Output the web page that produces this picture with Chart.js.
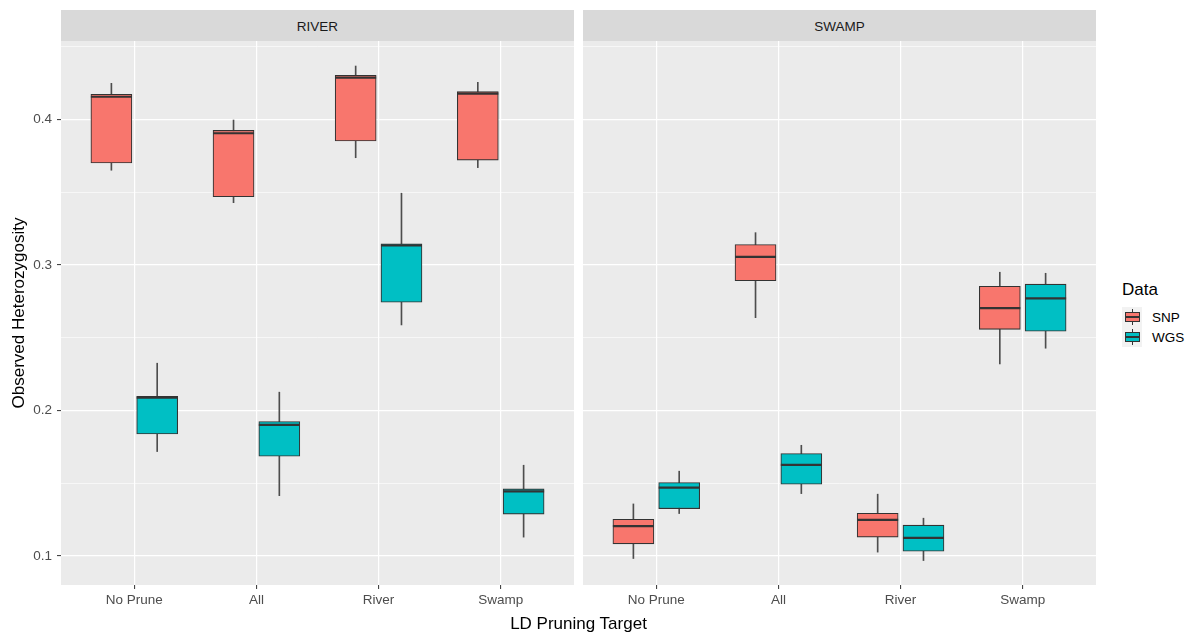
<!DOCTYPE html>
<html>
<head>
<meta charset="utf-8">
<script src="https://cdn.jsdelivr.net/npm/chart.js@4.4.1/dist/chart.umd.min.js"></script>
<style>
html,body{margin:0;padding:0;background:#fff;}
#wrap{position:relative;width:1192px;height:635px;overflow:hidden;font-family:"Liberation Sans",Arial,sans-serif;}
.cv{position:absolute;top:0;}
.strip{position:absolute;top:10px;height:31px;background:#D9D9D9;color:#1A1A1A;font-size:13.5px;line-height:33px;text-align:center;}
#xtitle{position:absolute;left:61px;width:1035px;top:614px;text-align:center;font-size:17px;color:#000;}
#legend{position:absolute;left:1122px;top:279px;color:#000;}
#legend .lt{font-size:17px;height:28px;line-height:22px;}
#legend .row{height:20px;display:flex;align-items:center;}
#legend .key{position:relative;width:20px;height:20px;background:#F2F2F2;margin-right:10px;}
#legend .wh{position:absolute;left:9.5px;width:1px;top:2px;height:16px;background:#333;}
#legend .bx{position:absolute;left:2.5px;width:13px;top:5px;height:8px;border:1px solid #333;}
#legend .md{position:absolute;left:2.5px;width:15px;top:9px;height:2px;background:#333;}
#legend .lab{font-size:13.5px;}
</style>
</head>
<body>
<div id="wrap">
  <canvas id="c1" class="cv" style="left:0px" width="574" height="635"></canvas>
  <canvas id="c2" class="cv" style="left:583px" width="513" height="635"></canvas>
  <div class="strip" style="left:61px;width:513px">RIVER</div>
  <div class="strip" style="left:583px;width:513px">SWAMP</div>
  <div id="xtitle">LD Pruning Target</div>
  <div id="legend">
    <div class="lt">Data</div>
    <div class="row"><span class="key"><i class="wh"></i><i class="bx" style="background:#F8766D"></i><i class="md"></i></span><span class="lab">SNP</span></div>
    <div class="row"><span class="key"><i class="wh"></i><i class="bx" style="background:#00BFC4"></i><i class="md"></i></span><span class="lab">WGS</span></div>
  </div>
</div>
<script>
// ---- data: each entry is [lower whisker, Q1, median, Q3, upper whisker] ----
const categories = ['No Prune', 'All', 'River', 'Swamp'];
const facets = ['RIVER', 'SWAMP'];
const seriesNames = ['SNP', 'WGS'];
const seriesColors = ['#F8766D', '#00BFC4'];

const riverSNP = [
  [0.3650, 0.3700, 0.4155, 0.4172, 0.4247],
  [0.3427, 0.3468, 0.3904, 0.3924, 0.3995],
  [0.3736, 0.3851, 0.4286, 0.4302, 0.4366],
  [0.3668, 0.3720, 0.4176, 0.4190, 0.4254]
];
const riverWGS = [
  [0.1717, 0.1838, 0.2088, 0.2097, 0.2324],
  [0.1414, 0.1685, 0.1900, 0.1923, 0.2125],
  [0.2587, 0.2743, 0.3134, 0.3145, 0.3492],
  [0.1129, 0.1287, 0.1444, 0.1460, 0.1623]
];
const swampSNP = [
  [0.0982, 0.1083, 0.1204, 0.1252, 0.1357],
  [0.2637, 0.2891, 0.3054, 0.3139, 0.3221],
  [0.1026, 0.1129, 0.1247, 0.1293, 0.1424],
  [0.2319, 0.2557, 0.2702, 0.2853, 0.2949]
];
const swampWGS = [
  [0.1291, 0.1325, 0.1469, 0.1504, 0.1582],
  [0.1428, 0.1493, 0.1625, 0.1703, 0.1760],
  [0.0968, 0.1032, 0.1124, 0.1211, 0.1259],
  [0.2427, 0.2544, 0.2770, 0.2867, 0.2942]
];

const yMajorTicks = [0.1, 0.2, 0.3, 0.4];
const yMinorTicks = [0.15, 0.25, 0.35, 0.45];

// ---- rendering ----
const FONT = '"Liberation Sans", Arial, sans-serif';
const DODGE = 0.1875;   // ggplot dodge offset (category units)
const BOX_PX = 41;      // box width in px
const isMajor = v => yMajorTicks.some(t => Math.abs(t - v) < 1e-9);

const panelBg = {
  id: 'panelBg',
  beforeDraw(chart) {
    const {ctx, chartArea: a} = chart;
    ctx.save();
    ctx.fillStyle = '#EBEBEB';
    ctx.fillRect(a.left, a.top, a.right - a.left, a.bottom - a.top);
    ctx.restore();
  }
};

function buildDatasets(groups) {
  const ds = [];
  groups.forEach((g, s) => {
    const off = s === 0 ? -DODGE : DODGE;
    ds.push({
      type: 'bar', label: seriesNames[s] + ' whisker', order: 3,
      data: g.map((d, i) => ({x: i + 1 + off, y: [d[0], d[4]]})),
      backgroundColor: '#4d4d4d', borderWidth: 0,
      barThickness: 1, grouped: false
    });
    ds.push({
      type: 'bar', label: seriesNames[s], order: 2,
      data: g.map((d, i) => ({x: i + 1 + off, y: [d[1], d[3]]})),
      backgroundColor: seriesColors[s], borderColor: '#333333', borderWidth: 1.1,
      borderSkipped: false, barThickness: BOX_PX, grouped: false
    });
    ds.push({
      type: 'scatter', label: seriesNames[s] + ' median', order: 1,
      data: g.map((d, i) => ({x: i + 1 + off, y: d[2]})),
      pointStyle: 'line', pointRadius: BOX_PX / 2, pointHoverRadius: BOX_PX / 2,
      borderColor: '#333333', borderWidth: 2.2
    });
  });
  return ds;
}

function makeChart(id, groups, showY) {
  return new Chart(document.getElementById(id), {
    type: 'bar',
    data: {datasets: buildDatasets(groups)},
    options: {
      responsive: false, animation: false, devicePixelRatio: 1,
      layout: {autoPadding: false, padding: {top: 41, left: 0, right: 0, bottom: 0}},
      plugins: {legend: {display: false}, tooltip: {enabled: false}},
      scales: {
        x: {
          type: 'linear', min: 0.4, max: 4.6, bounds: 'data', offset: false,
          afterBuildTicks: s => { s.ticks = categories.map((c, i) => ({value: i + 1})); },
          afterFit: s => { s.height = 50; s.paddingLeft = 0; s.paddingRight = 0; },
          ticks: {
            autoSkip: false, maxRotation: 0, padding: 3,
            color: '#4D4D4D', font: {family: FONT, size: 13.5},
            callback: v => categories[Math.round(v) - 1]
          },
          grid: {offset: false, color: '#FFFFFF', lineWidth: 1.2, tickColor: '#333333', tickLength: 4, tickWidth: 1},
          border: {display: false}
        },
        y: {
          type: 'linear', min: 0.08, max: 0.4538, bounds: 'data',
          afterBuildTicks: s => {
            s.ticks = yMajorTicks.concat(yMinorTicks).sort((a, b) => a - b).map(v => ({value: v}));
          },
          afterFit: s => { s.width = showY ? 61 : 0; s.paddingTop = 0; s.paddingBottom = 0; },
          ticks: {
            display: showY, autoSkip: false, padding: 5,
            color: '#4D4D4D', font: {family: FONT, size: 13.5},
            callback: v => isMajor(v) ? v.toFixed(1) : ''
          },
          grid: {
            color: '#FFFFFF',
            lineWidth: c => isMajor(c.tick.value) ? 1.2 : 0.6,
            drawTicks: showY, tickLength: 4, tickWidth: 1,
            tickColor: c => isMajor(c.tick.value) ? '#333333' : 'rgba(0,0,0,0)'
          },
          border: {display: false},
          title: {
            display: showY, text: 'Observed Heterozygosity', color: '#000000',
            font: {family: FONT, size: 17}, padding: {top: 9, bottom: 4}
          }
        }
      }
    },
    plugins: [panelBg]
  });
}

makeChart('c1', [riverSNP, riverWGS], true);
makeChart('c2', [swampSNP, swampWGS], false);
</script>
</body>
</html>
